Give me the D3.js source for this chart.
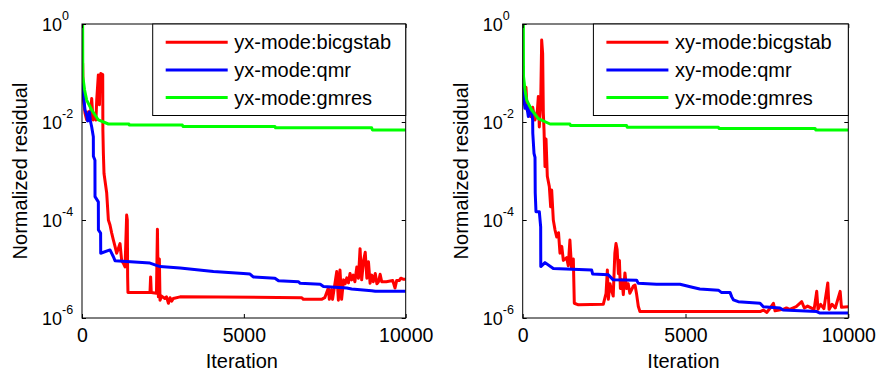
<!DOCTYPE html>
<html>
<head>
<meta charset="utf-8">
<script src="https://cdn.jsdelivr.net/npm/d3@7"></script>
<style>
  body { margin: 0; background: #fff; }
  text { font-family: "Liberation Sans", Arial, Helvetica, sans-serif; fill: #000; }
</style>
</head>
<body>
<svg width="877" height="371"></svg>
<script>
// tick values shared by both panels
const xTicks = [0, 5000, 10000];
const yTicks = [1, 1e-2, 1e-4, 1e-6];
const yExponents = ["0", "-2", "-4", "-6"];

// left panel: [iteration, normalized residual]
const yxBicgstab = [[0, 0.06], [20, 0.158], [40, 0.033], [93, 0.0151], [145, 0.011], [200, 0.0162], [250, 0.011],
  [300, 0.0302], [340, 0.011], [400, 0.0151], [430, 0.011], [455, 0.0282], [505, 0.0912], [540, 0.0224],
  [560, 0.0851], [580, 0.0977], [640, 0.0933], [645, 0.0069], [660, 0.0023], [680, 8.9e-4], [763, 3.55e-4],
  [815, 1e-4], [865, 7.9e-5], [918, 5.4e-5], [970, 3.9e-5], [1020, 2.9e-5], [1070, 2.1e-5], [1120, 2.6e-5],
  [1175, 3.3e-5], [1225, 1.5e-5], [1280, 1.3e-5], [1330, 1.1e-5], [1380, 1.26e-4], [1400, 1.0e-4],
  [1410, 6.9e-6], [1420, 3.3e-6], [2100, 3.3e-6], [2120, 6.9e-6], [2140, 3.3e-6], [2300, 3.2e-6],
  [2330, 6.5e-5], [2360, 2.7e-6], [2390, 1.6e-5], [2410, 2.3e-6], [2460, 2.8e-6], [2560, 2.5e-6],
  [2610, 2.7e-6], [2670, 2.0e-6], [2720, 2.6e-6], [2770, 2.2e-6], [2820, 2.5e-6], [3030, 2.7e-6],
  [6790, 2.6e-6], [6840, 2.4e-6], [7400, 2.4e-6], [7500, 2.6e-6], [7610, 4.1e-6], [7640, 2.4e-6],
  [7710, 3.8e-6], [7740, 2.4e-6], [7870, 8.9e-6], [7920, 2.3e-6], [7970, 9.5e-6], [8020, 2.4e-6],
  [8080, 6.0e-6], [8130, 5.0e-6], [8180, 6.6e-6], [8230, 5.2e-6], [8280, 8.1e-6], [8330, 6.0e-6],
  [8380, 7.5e-6], [8430, 5.5e-6], [8490, 1.1e-5], [8540, 6.5e-6], [8590, 2.6e-5], [8640, 6.0e-6],
  [8700, 1.5e-5], [8750, 2.2e-5], [8800, 6.5e-6], [8850, 1.4e-5], [8900, 5.1e-6], [8950, 7.5e-6],
  [9000, 5.5e-6], [9060, 8.1e-6], [9110, 5.0e-6], [9160, 5.5e-6], [9210, 7.8e-6], [9260, 5.5e-6],
  [9400, 5.5e-6], [9600, 5.8e-6], [9670, 4.1e-6], [9720, 5.8e-6], [9800, 5.8e-6], [9850, 6.5e-6],
  [9920, 6.2e-6], [10000, 6.2e-6]];
const yxQmr = [[0, 0.063], [93, 0.0176], [145, 0.0138], [175, 0.0105], [200, 0.011], [230, 0.016],
  [260, 0.0105], [300, 0.0079], [350, 0.005], [352, 0.002], [400, 0.00166], [402, 3.0e-4], [505, 2.34e-4],
  [507, 6.3e-5], [575, 5.4e-5], [578, 2.1e-5], [865, 2.45e-5], [970, 1.78e-5], [1020, 1.48e-5],
  [2100, 1.32e-5], [2410, 1.12e-5], [3030, 1.05e-5], [4060, 8.9e-6], [4985, 8.1e-6], [5190, 7.9e-6],
  [5290, 6.9e-6], [5960, 6.5e-6], [6070, 5.75e-6], [6690, 5.5e-6], [6740, 5.1e-6], [7360, 4.9e-6],
  [7460, 4.4e-6], [8180, 4.1e-6], [8330, 3.9e-6], [8950, 3.6e-6], [9060, 3.5e-6], [10000, 3.5e-6]];
const yxGmres = [[0, 1], [20, 1], [25, 0.085], [80, 0.045], [145, 0.028], [300, 0.0176], [505, 0.011],
  [815, 0.0091], [1450, 0.0091], [1460, 0.0087], [3100, 0.0087], [3120, 0.0081], [5960, 0.0081],
  [5980, 0.0076], [8950, 0.0076], [8970, 0.0069], [10000, 0.0069]];

// right panel
const xyBicgstab = [[0, 0.09], [20, 0.085], [50, 0.0234], [100, 0.051], [140, 0.017], [190, 0.02],
  [240, 0.0129], [306, 0.02], [378, 0.011], [450, 0.017], [480, 0.033], [510, 0.0079], [552, 0.0234],
  [583, 0.47], [613, 0.25], [634, 0.0151], [655, 0.0069], [685, 0.00123], [716, 0.0045], [756, 7.8e-4],
  [818, 4.8e-4], [859, 1.86e-4], [890, 4.1e-4], [940, 1e-4], [992, 6.3e-5], [1044, 4.5e-5], [1100, 5.5e-5],
  [1145, 2.1e-5], [1200, 2.9e-5], [1248, 1.5e-5], [1350, 1.7e-5], [1400, 1.17e-5], [1450, 3.9e-5],
  [1500, 1.07e-5], [1555, 1.6e-5], [1585, 2.0e-6], [1710, 1.86e-6], [2475, 1.9e-6], [2560, 3.2e-6],
  [2600, 9.5e-6], [2630, 2.4e-6], [2680, 5e-6], [2780, 2.8e-6], [2830, 2.1e-5], [2865, 3.3e-5],
  [2900, 2.5e-5], [2940, 8e-6], [2970, 1.5e-5], [3000, 4e-6], [3050, 6e-6], [3090, 3e-6], [3140, 8.3e-6],
  [3190, 4e-6], [3240, 5e-6], [3290, 3.2e-6], [3400, 4.5e-6], [3450, 4.7e-6], [3500, 3e-6],
  [3550, 1.74e-6], [3600, 1.35e-6], [7290, 1.35e-6], [7390, 1.45e-6], [7500, 1.3e-6], [7600, 1.6e-6],
  [7700, 2.0e-6], [7750, 1.4e-6], [8000, 1.5e-6], [8100, 1.6e-6], [8200, 1.5e-6], [8400, 1.7e-6],
  [8570, 2.15e-6], [8650, 1.6e-6], [8750, 1.75e-6], [8950, 1.5e-6], [9030, 3.5e-6], [9070, 1.5e-6],
  [9150, 1.9e-6], [9250, 1.55e-6], [9370, 5.2e-6], [9410, 1.5e-6], [9500, 1.9e-6], [9600, 1.6e-6],
  [9750, 3.5e-6], [9790, 1.65e-6], [10000, 1.7e-6]];
const xyQmr = [[0, 0.078], [40, 0.028], [70, 0.019], [120, 0.022], [173, 0.0129], [220, 0.02], [275, 0.0151],
  [306, 0.011], [310, 0.0059], [347, 0.0023], [378, 0.0019], [385, 3.55e-4], [408, 1.48e-4], [510, 1.48e-4],
  [552, 7.2e-5], [555, 1.12e-5], [685, 1.35e-5], [940, 1.02e-5], [2118, 9.5e-6], [2150, 7.9e-6],
  [2630, 7.6e-6], [2780, 6.0e-6], [3500, 5.9e-6], [3550, 5.1e-6], [4110, 4.9e-6], [4830, 4.9e-6],
  [5240, 4.2e-6], [5440, 3.9e-6], [6010, 3.7e-6], [6110, 3.3e-6], [6370, 3.3e-6], [6420, 2.7e-6],
  [6470, 2.35e-6], [6620, 2.15e-6], [7290, 2.0e-6], [7390, 1.7e-6], [7900, 1.6e-6], [8000, 1.45e-6],
  [9030, 1.35e-6], [9130, 1.26e-6], [10000, 1.26e-6]];
const xyGmres = [[0, 1], [20, 1], [25, 0.085], [70, 0.045], [122, 0.028], [275, 0.0176], [480, 0.0117],
  [840, 0.0091], [1450, 0.0091], [1470, 0.0085], [3190, 0.0085], [3210, 0.0078], [6010, 0.0078],
  [6030, 0.0074], [8980, 0.0074], [9000, 0.0069], [10000, 0.0069]];

const leftLabels = ["yx-mode:bicgstab", "yx-mode:qmr", "yx-mode:gmres"];
const rightLabels = ["xy-mode:bicgstab", "xy-mode:qmr", "yx-mode:gmres"];
const colors = ["#ff0000", "#0000ff", "#00ff00"];

const svg = d3.select("svg");

function drawPanel(id, left, right, series, labels) {
  const top = 24, bottom = 318;
  const x = d3.scaleLinear().domain([0, 10000]).range([left, right]);
  const y = d3.scaleLog().domain([1e-6, 1]).range([bottom, top]);
  const g = svg.append("g");

  g.append("clipPath").attr("id", id)
    .append("rect").attr("x", left).attr("y", top)
    .attr("width", right - left).attr("height", bottom - top);

  const line = d3.line().x(d => x(d[0])).y(d => y(d[1]));
  g.append("g").attr("clip-path", `url(#${id})`)
    .selectAll("path").data(series).enter().append("path")
    .attr("d", line)
    .attr("fill", "none")
    .attr("stroke", (d, i) => colors[i])
    .attr("stroke-width", 3)
    .attr("stroke-linejoin", "round");

  // inward ticks on all four sides
  const bx = g.append("g").attr("transform", `translate(0,${bottom})`)
    .call(d3.axisBottom(x).tickValues(xTicks).tickSize(-4).tickPadding(10).tickFormat(d3.format("d")));
  bx.selectAll("text").style("font-size", "19.5px");
  g.append("g").attr("transform", `translate(0,${top})`)
    .call(d3.axisTop(x).tickValues(xTicks).tickSize(-4).tickFormat(""));
  g.append("g").attr("transform", `translate(${left},0)`)
    .call(d3.axisLeft(y).tickValues(yTicks).tickSize(-4).tickFormat(""));
  g.append("g").attr("transform", `translate(${right},0)`)
    .call(d3.axisRight(y).tickValues(yTicks).tickSize(-4).tickFormat(""));
  g.selectAll(".domain").remove();
  g.selectAll(".tick line").attr("stroke", "#000");

  g.append("rect").attr("x", left).attr("y", top)
    .attr("width", right - left).attr("height", bottom - top)
    .attr("fill", "none").attr("stroke", "#000").attr("stroke-width", 1);

  // 10^n labels
  yTicks.forEach((v, i) => {
    const t = g.append("text").attr("x", left - 40).attr("y", y(v) + 6.5).style("font-size", "18px");
    t.append("tspan").text("10");
    t.append("tspan").attr("dy", -11).style("font-size", "12.5px").text(yExponents[i]);
  });

  g.append("text")
    .attr("transform", `translate(${left - 55},${(top + bottom) / 2}) rotate(-90)`)
    .attr("text-anchor", "middle").style("font-size", "20px")
    .text("Normalized residual");
  g.append("text")
    .attr("x", (left + right) / 2 - 2).attr("y", 368)
    .attr("text-anchor", "middle").style("font-size", "20px")
    .text("Iteration");

  // legend
  const lx = left + 70.7;
  const leg = g.append("g");
  leg.append("rect").attr("x", lx).attr("y", top)
    .attr("width", right - lx).attr("height", 91.5)
    .attr("fill", "#fff").attr("stroke", "#000").attr("stroke-width", 1);
  labels.forEach((lab, i) => {
    const ly = top + 18.3 + i * 27.6;
    leg.append("line").attr("x1", lx + 13).attr("x2", lx + 75)
      .attr("y1", ly).attr("y2", ly)
      .attr("stroke", colors[i]).attr("stroke-width", 3);
    leg.append("text").attr("x", lx + 81.6).attr("y", ly + 7)
      .style("font-size", "20px").text(lab);
  });
}

drawPanel("clipL", 82, 405.7, [yxBicgstab, yxQmr, yxGmres], leftLabels);
drawPanel("clipR", 522.7, 848.3, [xyBicgstab, xyQmr, xyGmres], rightLabels);
</script>
</body>
</html>
